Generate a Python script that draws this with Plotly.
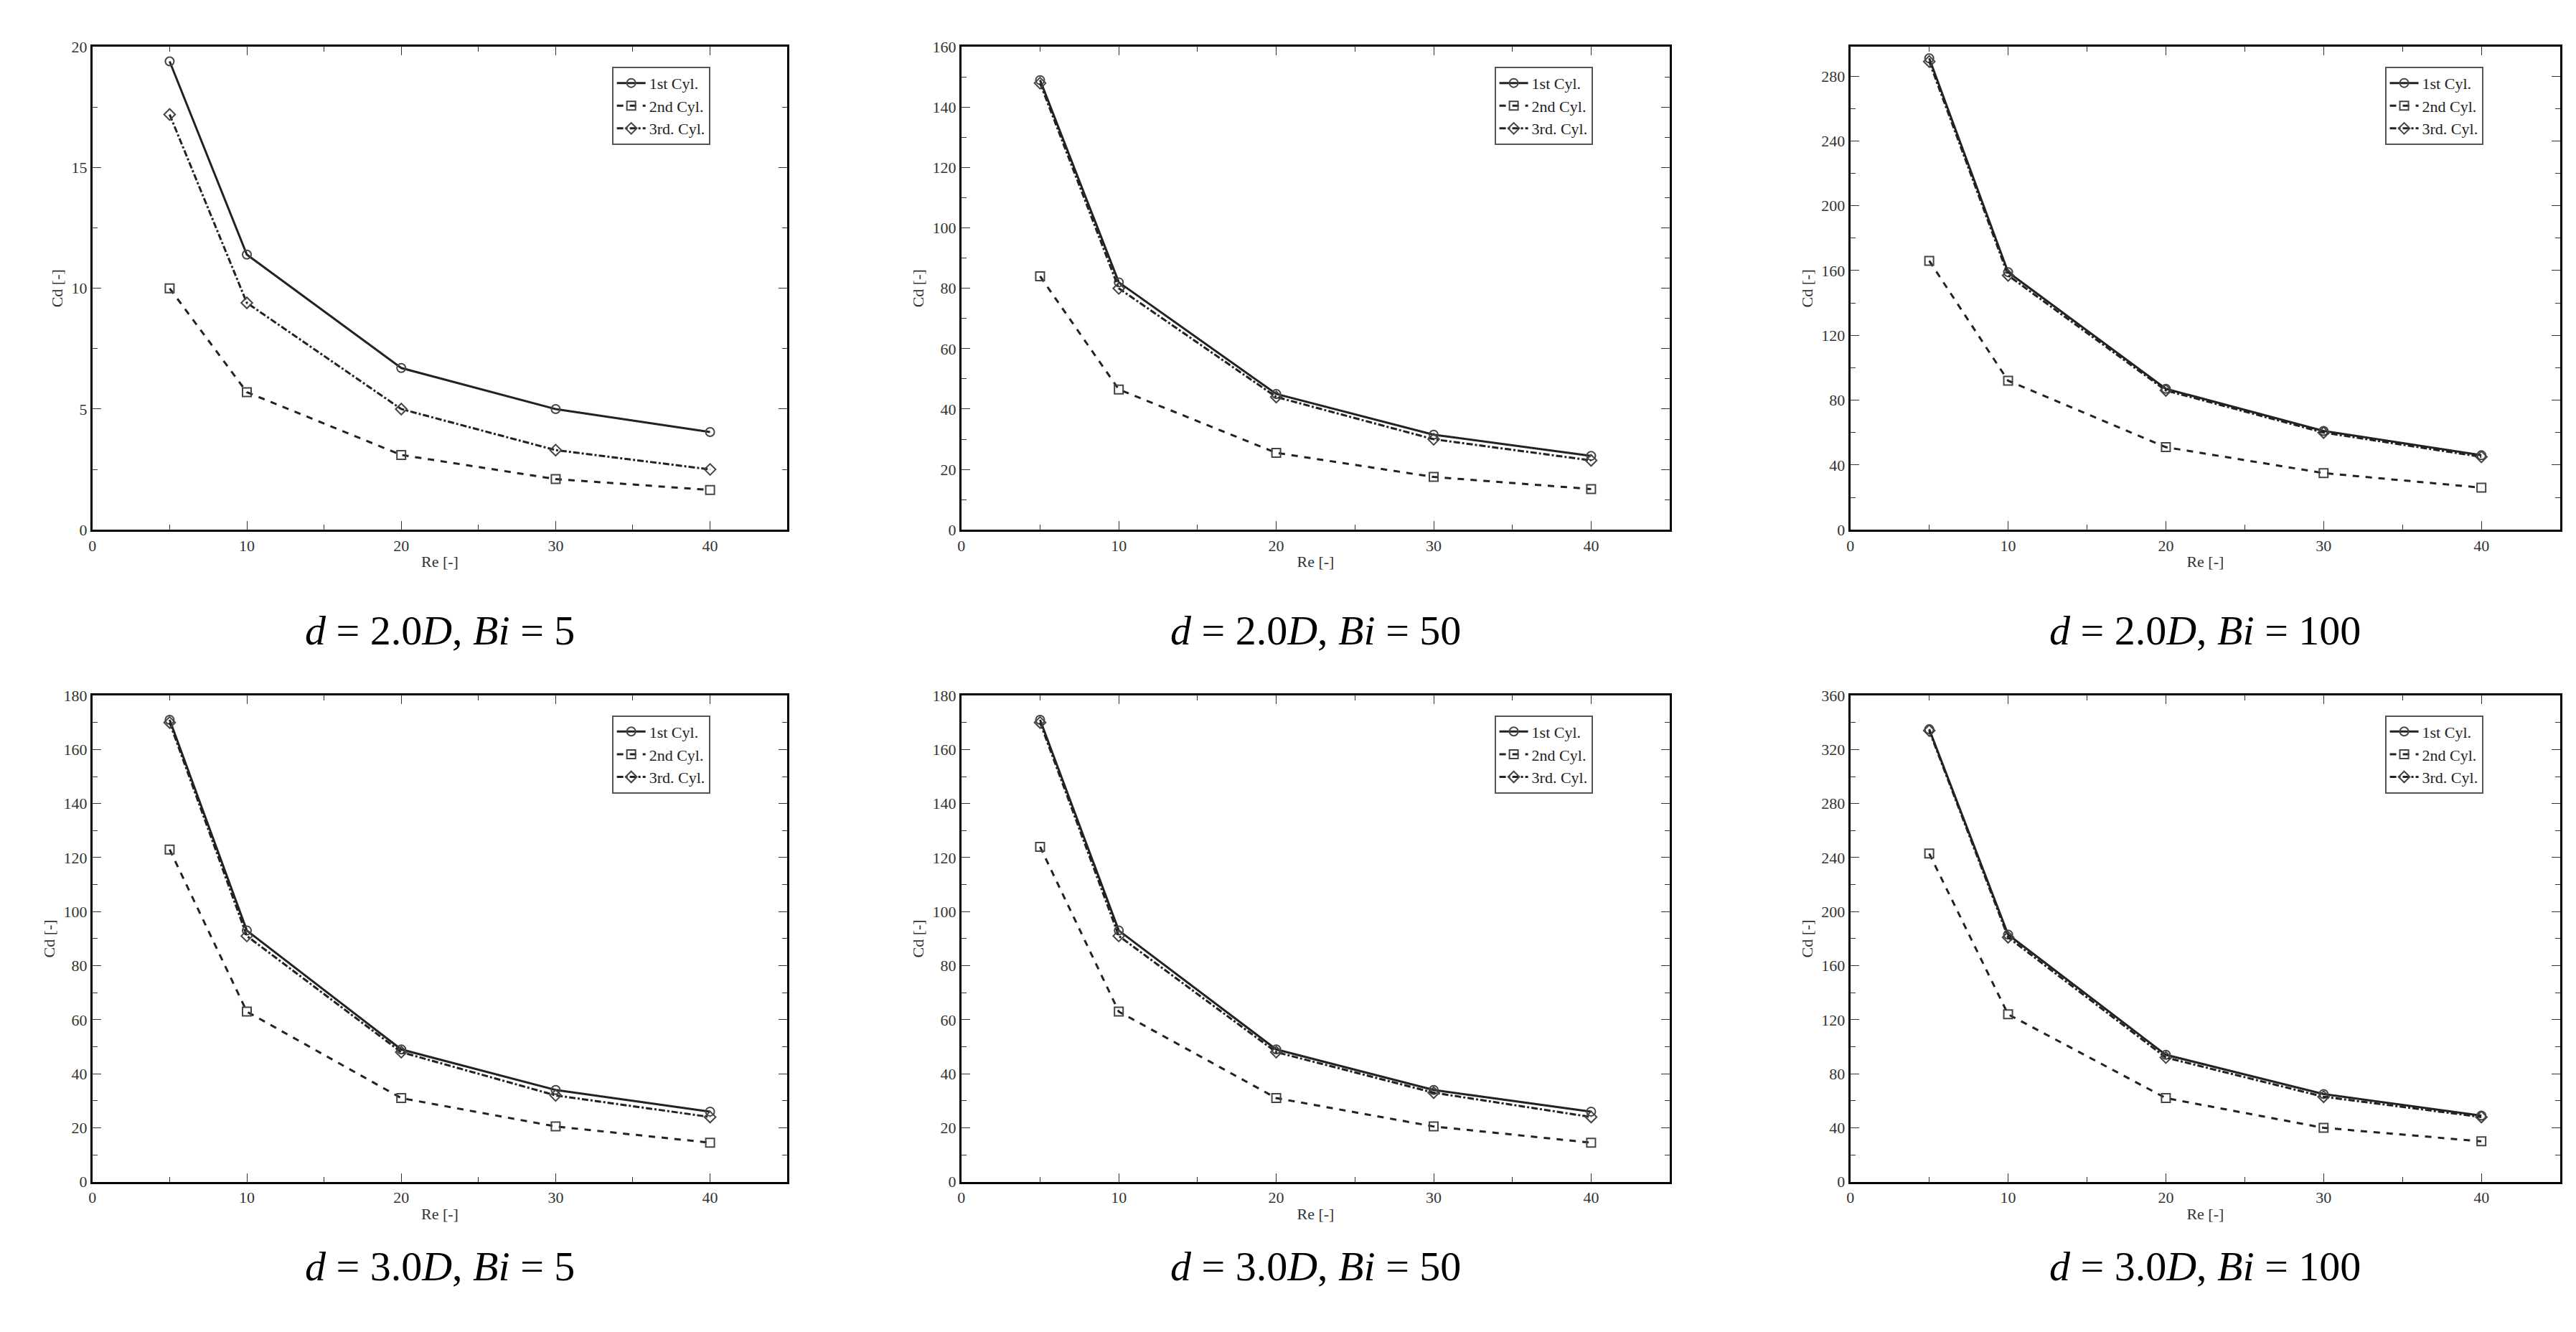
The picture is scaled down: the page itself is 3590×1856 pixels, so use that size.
import plotly.graph_objects as go

re_vals = [5, 10, 20, 30, 40]
series_names = ["1st Cyl.", "2nd Cyl.", "3rd. Cyl."]

cd_first = [
    [19.4, 11.4, 6.7, 5.0, 4.05],
    [149, 82, 45, 31.5, 24.5],
    [291, 159, 87, 61, 46],
    [171, 93, 49, 34, 26],
    [171, 93, 49, 34, 26],
    [335, 183, 94, 65, 49],
]
cd_second = [
    [10.0, 5.7, 3.1, 2.1, 1.65],
    [84, 46.5, 25.5, 17.5, 13.5],
    [166, 92, 51, 35, 26],
    [123, 63, 31, 20.5, 14.5],
    [124, 63, 31, 20.5, 14.5],
    [243, 124, 62, 40, 30],
]
cd_third = [
    [17.2, 9.4, 5.0, 3.3, 2.5],
    [148, 80, 44, 30, 23],
    [289, 157, 86, 60, 45],
    [170, 91, 48, 32, 24],
    [170, 91, 48, 33, 24],
    [334, 181, 92, 63, 48],
]
y_max = [20, 160, 298, 180, 180, 360]
y_dtick = [5, 20, 40, 20, 20, 40]
captions = [
    ("2.0", "5"), ("2.0", "50"), ("2.0", "100"),
    ("3.0", "5"), ("3.0", "50"), ("3.0", "100"),
]

W, H = 3590, 1856
x_doms = [(115 / W, 1085 / W), (1328 / W, 2317 / W), (2569 / W, 3560 / W)]
y_doms = [(1 - 728 / H, 1 - 46 / H), (1 - 1649 / H, 1 - 962 / H)]
cap_y = [1 - 870 / H, 1 - 1768 / H]

styles = [
    dict(dash="solid", symbol="circle-open"),
    dict(dash="dash", symbol="square-open"),
    dict(dash="dashdot", symbol="diamond-open"),
]

fig = go.Figure()
layout = {}
annotations = []
for i in range(6):
    r, c = divmod(i, 3)
    n = "" if i == 0 else str(i + 1)
    xa, ya = "x" + n, "y" + n
    lg = "legend" + n
    for k, data in enumerate([cd_first, cd_second, cd_third]):
        fig.add_trace(go.Scatter(
            x=re_vals, y=data[i], name=series_names[k], mode="lines+markers",
            line=dict(color="#222", width=3, dash=styles[k]["dash"]),
            marker=dict(symbol=styles[k]["symbol"], size=12, color="#444", line=dict(width=2)),
            xaxis=xa, yaxis=ya, legend=lg, cliponaxis=False,
        ))
    axis_common = dict(showline=True, linecolor="black", linewidth=3, mirror="ticks",
                       ticks="inside", ticklen=12, tickcolor="#333", showgrid=False, zeroline=False,
                       tickfont=dict(family="Liberation Serif", size=22, color="#333"),
                       title_font=dict(family="Liberation Serif", size=22, color="#333"))
    layout["xaxis" + n] = dict(axis_common, domain=x_doms[c], anchor=ya, range=[0, 45],
                               dtick=10, minor=dict(dtick=5, ticks="inside", ticklen=7),
                               title=dict(text="Re [-]", standoff=4))
    layout["yaxis" + n] = dict(axis_common, domain=y_doms[r], anchor=xa, range=[0, y_max[i]],
                               dtick=y_dtick[i], minor=dict(dtick=y_dtick[i] / 2, ticks="inside", ticklen=7),
                               title=dict(text="Cd [-]", standoff=6))
    layout[lg] = dict(x=x_doms[c][1] - 0.03, y=y_doms[r][1] - 0.015, xanchor="right", yanchor="top",
                      bgcolor="white", bordercolor="#555", borderwidth=2,
                      font=dict(family="Liberation Serif", size=22, color="#222"),
                      tracegroupgap=0, itemwidth=40)
    d, bi = captions[i]
    annotations.append(dict(
        text=f"<i>d</i> = {d}<i>D</i>, <i>Bi</i> = {bi}", xref="paper", yref="paper",
        x=sum(x_doms[c]) / 2, y=cap_y[r], showarrow=False, xanchor="center", yanchor="middle",
        font=dict(family="Liberation Serif", size=58, color="black"),
    ))

fig.update_layout(**layout)
fig.update_layout(width=W, height=H, margin=dict(l=0, r=0, t=0, b=0),
                  plot_bgcolor="white", paper_bgcolor="white", annotations=annotations)
fig.write_html("out.html")
